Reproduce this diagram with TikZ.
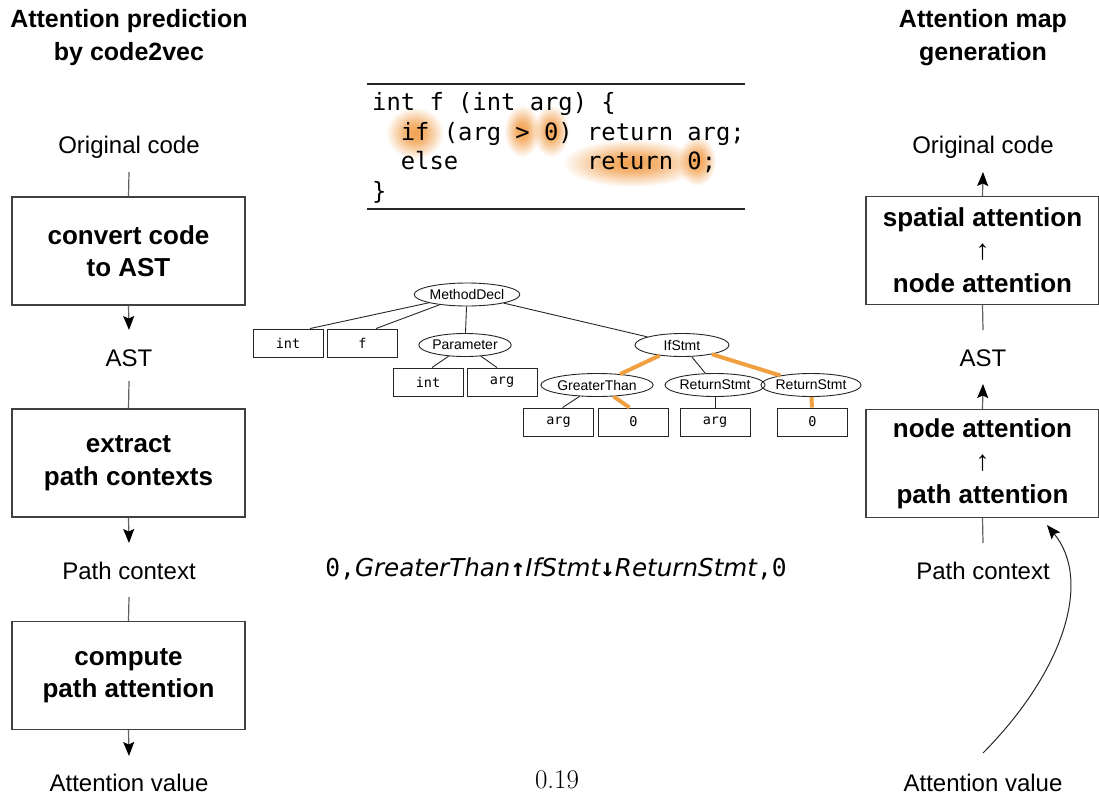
\documentclass[tikz,border=0pt]{standalone}
\usepackage{fontspec}
\setmainfont{Liberation Sans}
\setmonofont{DejaVu Sans Mono}
\newfontfamily\djsans{DejaVu Sans}
\usetikzlibrary{shapes.geometric,arrows.meta,calc,fadings}

\definecolor{hotc}{HTML}{F0A040}
\definecolor{glowc}{HTML}{F0963C}

% soft radial glow used behind the highlighted tokens
\pgfdeclareradialshading{glowshade}{\pgfpointorigin}{color(0bp)=(white!90!black); color(9bp)=(white!72!black); color(25bp)=(black); color(50bp)=(black)}
\pgfdeclarefading{glow}{\pgfuseshading{glowshade}}

\begin{document}
\begin{tikzpicture}[x=1pt,y=-1pt,
  lbl/.style={font=\fontsize{24}{28}\selectfont, inner sep=0pt},
  head/.style={font=\fontsize{25}{33}\selectfont\bfseries, align=center, inner sep=0pt},
  stage/.style={draw=black!75, line width=1.3pt, minimum width=233pt, minimum height=108pt,
    align=center, font=\fontsize{26}{32.5}\selectfont\bfseries, inner sep=0pt},
  stagethree/.style={stage, font=\fontsize{26}{33}\selectfont\bfseries},
  conn/.style={draw=black!62, line width=1.2pt},
  tip/.style={-{Stealth[length=14pt,width=11pt,inset=2.5pt,color=black]}},
  arr/.style={conn, tip},
  astn/.style={ellipse, draw=black!85, line width=0.9pt, minimum width=92pt, minimum height=23pt,
    inner sep=0pt, font=\fontsize{14}{15}\selectfont},
  leaf/.style={rectangle, draw=black!85, line width=0.9pt, minimum width=70pt, minimum height=28pt,
    inner sep=0pt, font=\ttfamily\fontsize{13.5}{14}\selectfont},
  treeline/.style={draw=black!85, line width=0.9pt},
  hot/.style={draw=hotc, line width=4pt},
  codeline/.style={anchor=base west, inner sep=0pt, font=\ttfamily\fontsize{23.8}{29.5}\selectfont},
  glowblob/.style={fill=glowc, path fading=glow},
]
\useasboundingbox (0,0) rectangle (1099,797);

% ---------- left column: attention prediction ----------
\node[head] (lhead) at (129,37.5) {Attention prediction\\by code2vec};
\node[lbl] (lorig) at (129,147) {Original code};
\node[stage] (lbox1) at (128.5,251) {convert code\\to AST};
\node[lbl] (last) at (129,358) {AST};
\node[stage] (lbox2) at (128.5,463) {extract\\path contexts};
\node[lbl] (lpath) at (129,571) {Path context};
\node[stage] (lbox3) at (128.5,675.5) {compute\\path attention};
\node[lbl] (lval) at (129,783) {Attention value};

\draw[conn] ($(lorig)+(0,25)$) -- (lbox1.north);
\draw[arr] (lbox1.south) -- ($(last)+(0,-28)$);
\draw[conn] ($(last)+(0,23)$) -- (lbox2.north);
\draw[arr] (lbox2.south) -- ($(lpath)+(0,-28)$);
\draw[conn] ($(lpath)+(0,26)$) -- (lbox3.north);
\draw[arr] (lbox3.south) -- ($(lval)+(0,-27)$);

% ---------- right column: attention map generation ----------
\node[head] (rhead) at (983,37.5) {Attention map\\generation};
\node[lbl] (rorig) at (983,147) {Original code};
\node[stagethree] (rbox1) at (982.5,250.5) {spatial attention\\{\mdseries\normalfont\fontsize{28}{33}\selectfont ↑}\\node attention};
\node[lbl] (rast) at (983,358) {AST};
\node[stagethree] (rbox2) at (982.5,463.5) {node attention\\{\mdseries\normalfont\fontsize{28}{33}\selectfont ↑}\\path attention};
\node[lbl] (rpath) at (983,571) {Path context};
\node[lbl] (rval) at (983,783) {Attention value};
\coordinate (feedtip) at (1047,525);

\draw[arr] (rbox1.north) -- ($(rorig)+(0,25)$);
\draw[conn] (rbox1.south) -- ($(rast)+(0,-28)$);
\draw[arr] (rbox2.north) -- ($(rast)+(0,26)$);
\draw[conn] ($(rpath)+(0,-28)$) -- (rbox2.south);
\draw[draw=black!85, line width=1pt, tip]
  ($(rval)+(0,-30)$) .. controls (1065,670) and (1092,580) .. (feedtip);

% ---------- source code with highlighted tokens ----------
\draw[line width=1.2pt, black!85] (367,84) -- (745,84);
\draw[line width=1.2pt, black!85] (367,209) -- (745,209);

\fill[glowblob] (415,133) ellipse (29 and 26);
\fill[glowblob] (522,131) ellipse (18 and 26);
\fill[glowblob] (551,131) ellipse (18 and 26);
\fill[glowblob] (632,163) ellipse (70 and 24);
\fill[glowblob] (697,161) ellipse (19 and 25);

\node[codeline] (c1) at (372,110.5) {int~f~(int~arg)~\{};
\node[codeline] (c2) at (372,140) {~~if~(arg~>~0)~return~arg;};
\node[codeline] (c3) at (372,169.5) {~~else~~~~~~~~~return~0;};
\node[codeline] (c4) at (372,199) {\}};

% ---------- abstract syntax tree ----------
\node[astn] (md) at (467,294.5) {MethodDecl};
\node[leaf] (int1) at (288,343) {int};
\node[leaf] (fname) at (362.5,343) {f};
\node[astn] (param) at (465,345) {Parameter};
\node[astn, minimum width=94pt] (ifs) at (682,345) {IfStmt};
\node[leaf] (int2) at (428,382) {int};
\node[leaf] (argp) at (502,382) {arg};
\node[astn] (gt) at (597,385) {GreaterThan};
\node[astn] (rs1) at (715,385) {ReturnStmt};
\node[astn] (rs2) at (811,385) {ReturnStmt};
\node[leaf] (arga) at (558.5,422) {arg};
\node[leaf] (zeroa) at (633.5,422) {0};
\node[leaf] (argb) at (715,422) {arg};
\node[leaf] (zerob) at (812.5,422) {0};

\draw[treeline] (md) -- ($(int1.north)+(22,0)$);
\draw[treeline] (md) -- ($(fname.north)+(13.5,0)$);
\draw[treeline] (md) -- (param);
\draw[treeline] (md) -- (ifs);
\draw[treeline] (param) -- ($(int2.north)+(4,0)$);
\draw[treeline] (param) -- ($(argp.north)+(-5,0)$);
\draw[hot] (ifs) -- (gt);
\draw[treeline] (ifs) -- (rs1);
\draw[hot] (ifs) -- (rs2);
\draw[treeline] (gt) -- ($(arga.north)+(4,0)$);
\draw[hot] (gt) -- ($(zeroa.north)+(-4,0)$);
\draw[treeline] (rs1) -- (argb);
\draw[hot] (rs2) -- (zerob);

% ---------- extracted path context and its score ----------
\node[inner sep=0pt, font=\fontsize{24.6}{28}\selectfont] (pctx) at (556,569)
  {{\ttfamily 0,}{\djsans\itshape GreaterThan}{\ttfamily\bfseries ↑}{\djsans\itshape IfStmt}{\ttfamily\bfseries ↓}{\djsans\itshape ReturnStmt}{\ttfamily ,0}};
\node[inner sep=0pt] (score) at (557,780) {\fontfamily{lmr}\fontsize{27}{30}\selectfont 0.19};
\end{tikzpicture}
\end{document}
